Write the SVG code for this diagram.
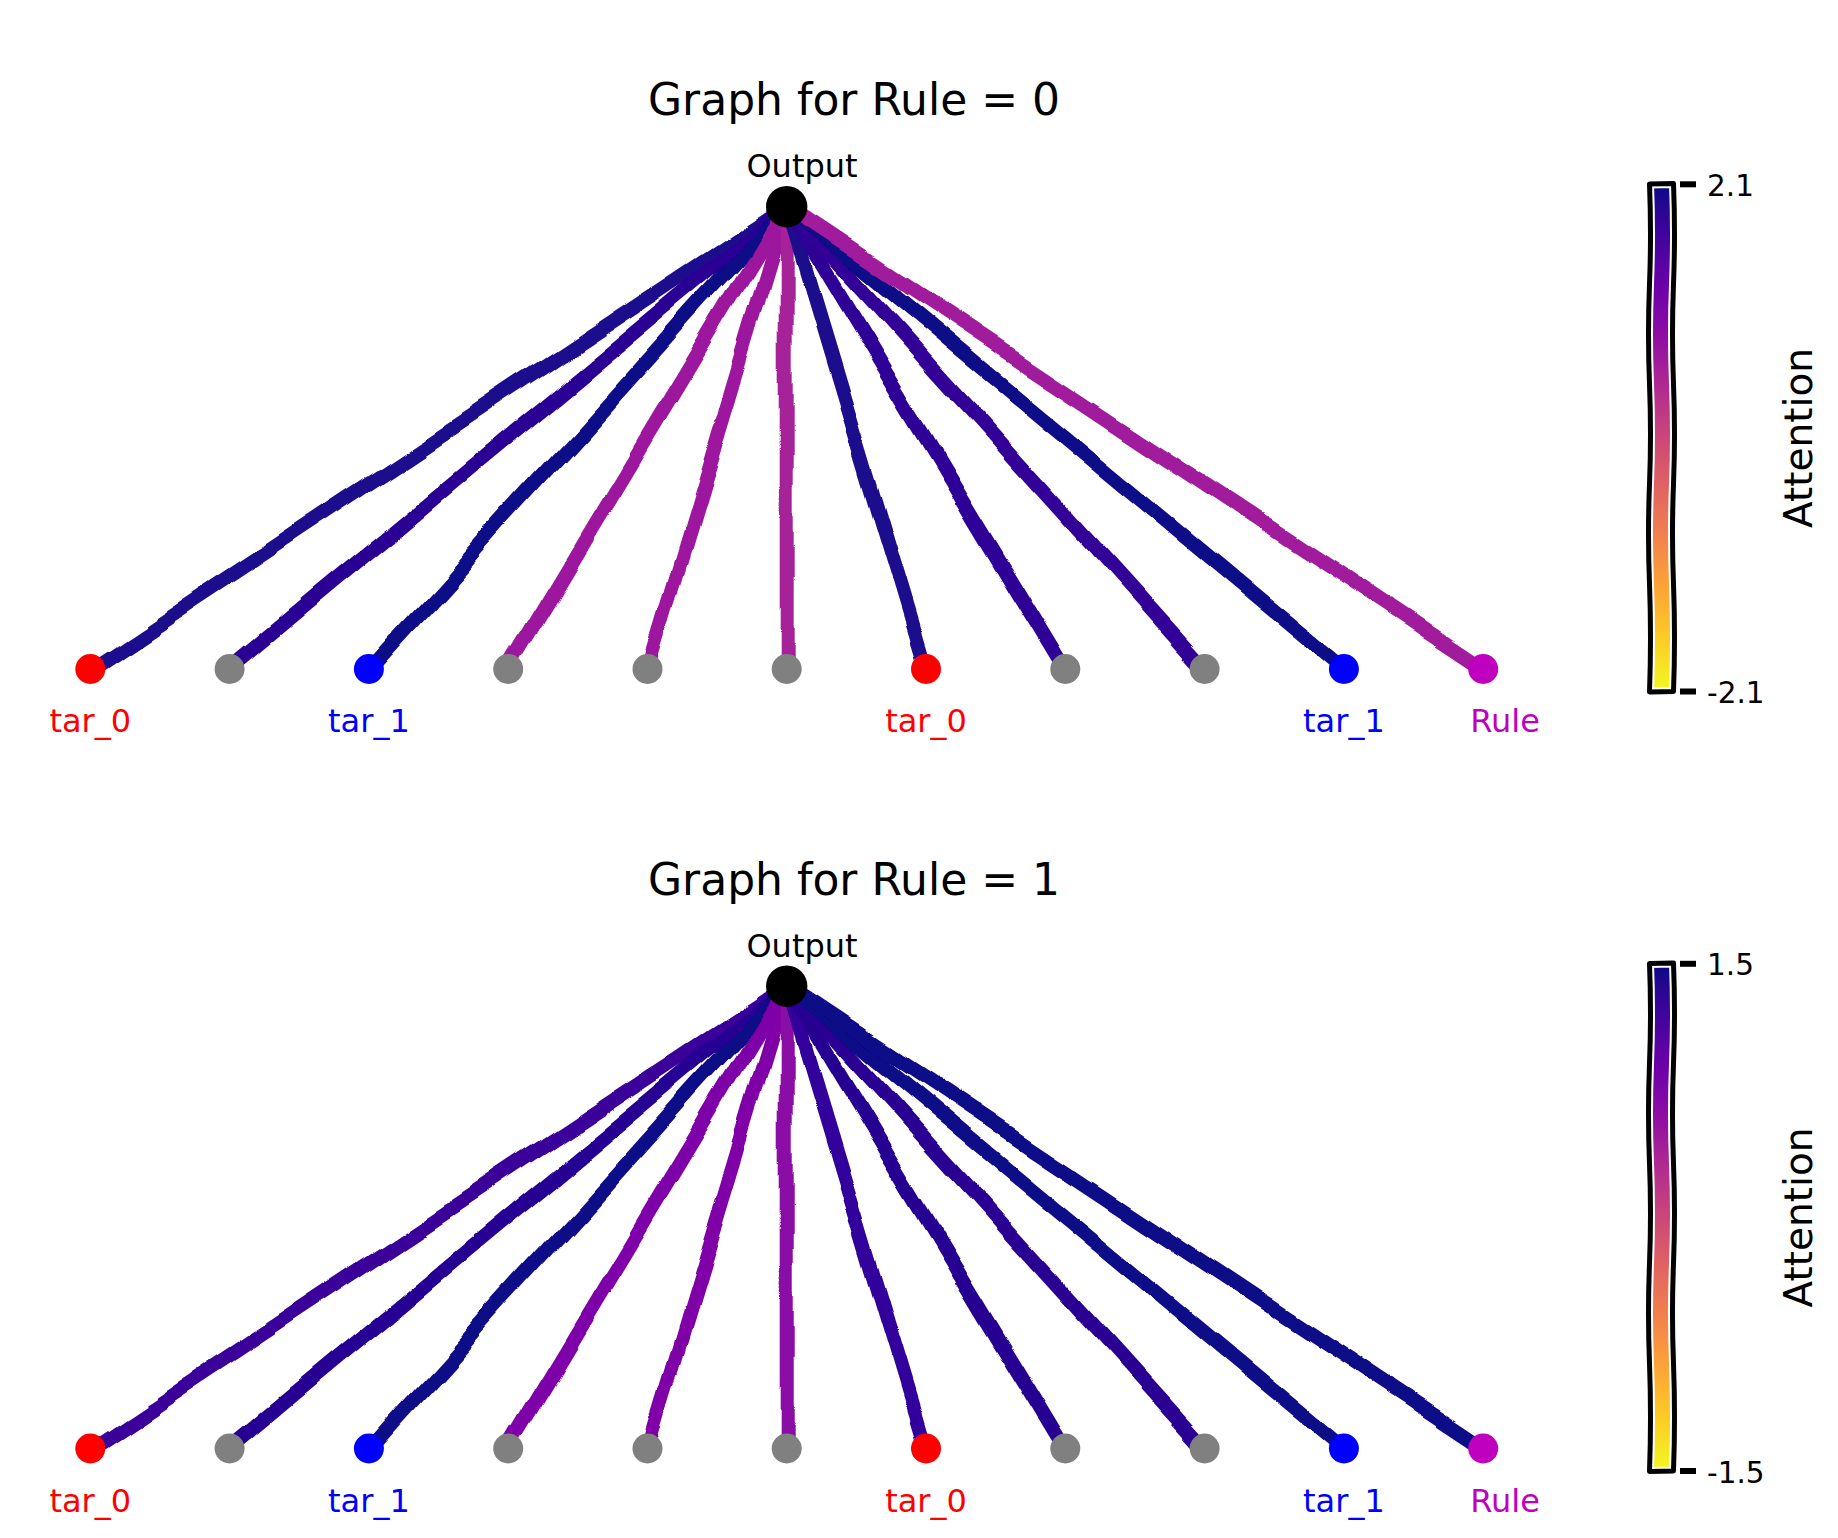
<svg xmlns="http://www.w3.org/2000/svg" width="1838" height="1538" viewBox="0 0 1838 1538">
<style>
text{font-family:"DejaVu Sans","Liberation Sans",sans-serif;}
.title{font-size:44px;fill:#000;}
.olab{font-size:32px;fill:#000;text-anchor:middle;}
.lab{font-size:32px;text-anchor:middle;}
.tick{font-size:29.5px;fill:#000;}
.cbl{font-size:39px;fill:#000;text-anchor:middle;}
.e{fill:none;stroke-width:14;stroke-linecap:butt;}
.out{fill:#000;}
.red{fill:#ff0000;}
.gray{fill:#808080;}
.blue{fill:#0000ff;}
.mag{fill:#bf00bf;}
.cbw{fill:none;stroke:#fff;stroke-width:9;stroke-linejoin:round;}
.cbk{fill:none;stroke:#000;stroke-width:5;stroke-linejoin:round;}
.tk{stroke:#000;stroke-width:6;}
</style>
<defs>
<filter id="wob" filterUnits="userSpaceOnUse" x="0" y="0" width="1838" height="1538">
<feTurbulence type="fractalNoise" baseFrequency="0.011" numOctaves="1" seed="7" result="n"/>
<feDisplacementMap in="SourceGraphic" in2="n" scale="18" xChannelSelector="R" yChannelSelector="G"/>
</filter>
<linearGradient id="plasma" x1="0" y1="0" x2="0" y2="1">
<stop offset="0" stop-color="#0d0887"/>
<stop offset="0.1" stop-color="#41049d"/>
<stop offset="0.2" stop-color="#6a00a8"/>
<stop offset="0.3" stop-color="#8f0da4"/>
<stop offset="0.4" stop-color="#b12a90"/>
<stop offset="0.5" stop-color="#cc4778"/>
<stop offset="0.6" stop-color="#e16462"/>
<stop offset="0.7" stop-color="#f2844b"/>
<stop offset="0.8" stop-color="#fca636"/>
<stop offset="0.9" stop-color="#fcce25"/>
<stop offset="1" stop-color="#f0f921"/>
</linearGradient>
<path id="cbpath" d="M1649.5 184 L1673.5 183.5 Q1675.5 234 1673.5 284 Q1671.5 334 1673.5 384 Q1675.5 434 1673.5 484 Q1671.5 534 1673.5 584 Q1675.5 638 1673.5 691.5 L1649.5 692 Q1651.5 638 1649.5 584 Q1647.5 534 1649.5 484 Q1651.5 434 1649.5 384 Q1647.5 334 1649.5 284 Q1651.5 234 1649.5 184 Z"/>
</defs>
<rect width="1838" height="1538" fill="#fff"/>

<!-- Panel 1 -->
<g id="panel0">
<text class="title" x="648" y="115">Graph for Rule = 0</text>
<g id="edges0" filter="url(#wob)">
<path class="e" stroke="#1f0a8c" d="M786.7 206.7L90.3 669"/>
<path class="e" stroke="#2c0594" d="M786.7 206.7L229.6 669"/>
<path class="e" stroke="#0d0887" d="M786.7 206.7L368.9 669"/>
<path class="e" stroke="#9c179e" d="M786.7 206.7L508.2 669"/>
<path class="e" stroke="#9c179e" d="M786.7 206.7L647.5 669"/>
<path class="e" stroke="#a62098" d="M786.7 206.7L786.7 669"/>
<path class="e" stroke="#1e0a8c" d="M786.7 206.7L926 669"/>
<path class="e" stroke="#2f0596" d="M786.7 206.7L1065.3 669"/>
<path class="e" stroke="#330597" d="M786.7 206.7L1204.6 669"/>
<path class="e" stroke="#0d0887" d="M786.7 206.7L1343.9 669"/>
<path class="e" stroke="#a01a9c" d="M786.7 206.7L1483.2 669"/>
</g>
<g id="out0"><circle class="out" cx="786.7" cy="206.7" r="20.7"/><text class="olab" x="802" y="177">Output</text></g>
<g id="n0_0"><circle class="red" cx="90.3" cy="669" r="15"/><text class="lab" fill="#ff0000" x="90.3" y="732">tar_0</text></g>
<g id="n0_1"><circle class="gray" cx="229.6" cy="669" r="15"/></g>
<g id="n0_2"><circle class="blue" cx="368.9" cy="669" r="15"/><text class="lab" fill="#0000ff" x="368.9" y="732">tar_1</text></g>
<g id="n0_3"><circle class="gray" cx="508.2" cy="669" r="15"/></g>
<g id="n0_4"><circle class="gray" cx="647.5" cy="669" r="15"/></g>
<g id="n0_5"><circle class="gray" cx="786.7" cy="669" r="15"/></g>
<g id="n0_6"><circle class="red" cx="926" cy="669" r="15"/><text class="lab" fill="#ff0000" x="926" y="732">tar_0</text></g>
<g id="n0_7"><circle class="gray" cx="1065.3" cy="669" r="15"/></g>
<g id="n0_8"><circle class="gray" cx="1204.6" cy="669" r="15"/></g>
<g id="n0_9"><circle class="blue" cx="1343.9" cy="669" r="15"/><text class="lab" fill="#0000ff" x="1343.9" y="732">tar_1</text></g>
<g id="n0_10"><circle class="mag" cx="1483.2" cy="669" r="15"/><text class="lab" fill="#bf00bf" x="1505" y="732">Rule</text></g>
<g id="cbar0">
<use href="#cbpath" fill="url(#plasma)"/>
<use href="#cbpath" class="cbw"/>
<use href="#cbpath" class="cbk"/>
<line class="tk" x1="1680" y1="184.3" x2="1696" y2="184.3"/>
<line class="tk" x1="1680" y1="691.5" x2="1696" y2="691.5"/>
<text class="tick" x="1707" y="195.5">2.1</text>
<text class="tick" x="1707" y="703">-2.1</text>
<text class="cbl" transform="translate(1811.5 438) rotate(-90)">Attention</text>
</g>
</g>

<!-- Panel 2 -->
<g id="panel1" transform="translate(0 779.5)">
<text class="title" x="648" y="115">Graph for Rule = 1</text>
<g id="edges1" filter="url(#wob)">
<path class="e" stroke="#3a049a" d="M786.7 206.7L90.3 669"/>
<path class="e" stroke="#280592" d="M786.7 206.7L229.6 669"/>
<path class="e" stroke="#0d0887" d="M786.7 206.7L368.9 669"/>
<path class="e" stroke="#7e03a8" d="M786.7 206.7L508.2 669"/>
<path class="e" stroke="#8005a7" d="M786.7 206.7L647.5 669"/>
<path class="e" stroke="#8a09a5" d="M786.7 206.7L786.7 669"/>
<path class="e" stroke="#33059a" d="M786.7 206.7L926 669"/>
<path class="e" stroke="#260591" d="M786.7 206.7L1065.3 669"/>
<path class="e" stroke="#2b0593" d="M786.7 206.7L1204.6 669"/>
<path class="e" stroke="#0d0887" d="M786.7 206.7L1343.9 669"/>
<path class="e" stroke="#100788" d="M786.7 206.7L1483.2 669"/>
</g>
<g id="out1"><circle class="out" cx="786.7" cy="206.7" r="20.7"/><text class="olab" x="802" y="177">Output</text></g>
<g id="n1_0"><circle class="red" cx="90.3" cy="669" r="15"/><text class="lab" fill="#ff0000" x="90.3" y="732">tar_0</text></g>
<g id="n1_1"><circle class="gray" cx="229.6" cy="669" r="15"/></g>
<g id="n1_2"><circle class="blue" cx="368.9" cy="669" r="15"/><text class="lab" fill="#0000ff" x="368.9" y="732">tar_1</text></g>
<g id="n1_3"><circle class="gray" cx="508.2" cy="669" r="15"/></g>
<g id="n1_4"><circle class="gray" cx="647.5" cy="669" r="15"/></g>
<g id="n1_5"><circle class="gray" cx="786.7" cy="669" r="15"/></g>
<g id="n1_6"><circle class="red" cx="926" cy="669" r="15"/><text class="lab" fill="#ff0000" x="926" y="732">tar_0</text></g>
<g id="n1_7"><circle class="gray" cx="1065.3" cy="669" r="15"/></g>
<g id="n1_8"><circle class="gray" cx="1204.6" cy="669" r="15"/></g>
<g id="n1_9"><circle class="blue" cx="1343.9" cy="669" r="15"/><text class="lab" fill="#0000ff" x="1343.9" y="732">tar_1</text></g>
<g id="n1_10"><circle class="mag" cx="1483.2" cy="669" r="15"/><text class="lab" fill="#bf00bf" x="1505" y="732">Rule</text></g>
<g id="cbar1">
<use href="#cbpath" fill="url(#plasma)"/>
<use href="#cbpath" class="cbw"/>
<use href="#cbpath" class="cbk"/>
<line class="tk" x1="1680" y1="184.3" x2="1696" y2="184.3"/>
<line class="tk" x1="1680" y1="691.5" x2="1696" y2="691.5"/>
<text class="tick" x="1707" y="195.5">1.5</text>
<text class="tick" x="1707" y="703">-1.5</text>
<text class="cbl" transform="translate(1811.5 438) rotate(-90)">Attention</text>
</g>
</g>
</svg>
